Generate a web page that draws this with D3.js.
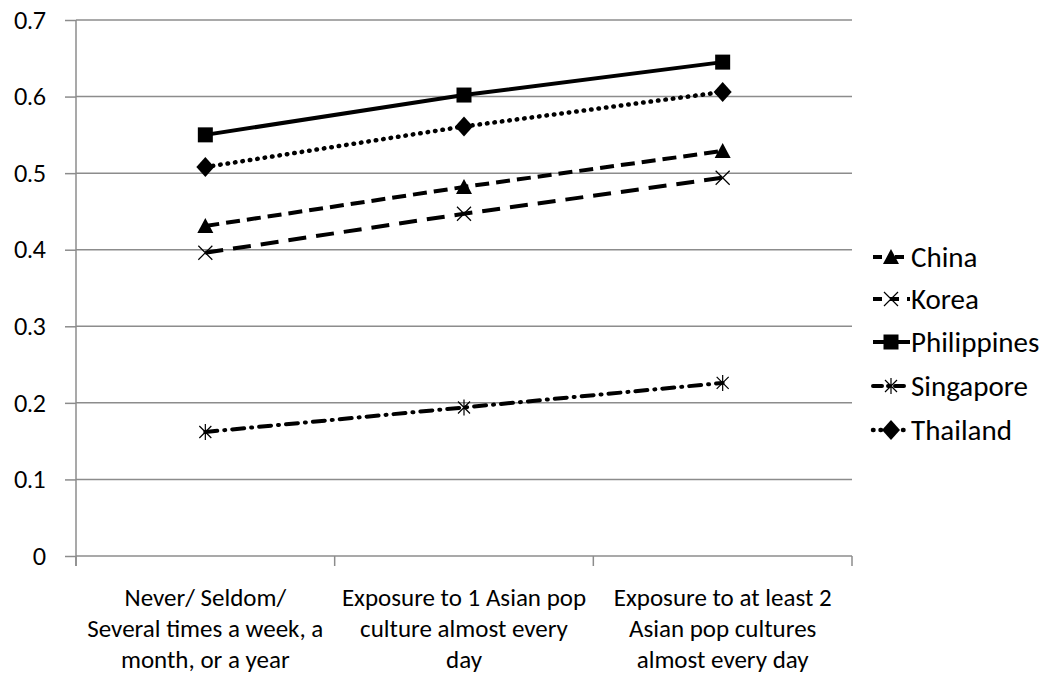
<!DOCTYPE html>
<html><head><meta charset="utf-8">
<script src="https://cdn.jsdelivr.net/npm/d3@7"></script>
<style>body{margin:0;background:#fff}svg{display:block}text{font-family:"Liberation Sans Narrow",Carlito,"Open Sans",sans-serif;fill:#000}</style>
</head><body><svg id="c" width="1051" height="678"></svg>
<script>
const categories = [
  ["Never/ Seldom/","Several times a week, a","month, or a year"],
  ["Exposure to 1 Asian pop","culture almost every","day"],
  ["Exposure to at least 2","Asian pop cultures","almost every day"]
];
const seriesNames = ["China","Korea","Philippines","Singapore","Thailand"];
const china = [0.431, 0.482, 0.529];
const korea = [0.396, 0.447, 0.494];
const philippines = [0.550, 0.602, 0.645];
const singapore = [0.162, 0.194, 0.226];
const thailand = [0.508, 0.561, 0.606];
const yTicks = [0,0.1,0.2,0.3,0.4,0.5,0.6,0.7];

const values = [china, korea, philippines, singapore, thailand];
const dashes = ["14,7","18,10",null,"12,7,1,7","0.5,7"];
const caps = ["butt","butt","butt","round","round"];
const markers = ["triangle","x","square","star","diamond"];

const svg = d3.select("#c");
const L=76, R=852, T=20, B=556;
const x = d3.scaleBand().domain(d3.range(categories.length)).range([L,R]);
const y = d3.scaleLinear().domain([0,0.7]).range([B,T]);

// grid
svg.append("g").selectAll("line").data(yTicks.filter(d=>d>0)).join("line")
  .attr("x1",L).attr("x2",R).attr("y1",d=>y(d)).attr("y2",d=>y(d))
  .attr("stroke","#8c8c8c").attr("stroke-width",1.5);

const ya = svg.append("g").attr("transform",`translate(${L},0)`)
  .call(d3.axisLeft(y).tickValues(yTicks).tickSize(11).tickPadding(19).tickFormat(d=>d===0?"0":d3.format(".1f")(d)));
ya.select(".domain").attr("stroke","#8c8c8c").attr("stroke-width",1.5).attr("d",`M0,${B+10}V${T}`);
ya.selectAll(".tick line").attr("stroke","#8c8c8c").attr("stroke-width",1.5);
ya.selectAll("text").style("font-family","Lato, sans-serif").style("font-size","23px").attr("fill","#000").attr("dy","0.36em");

const xa = svg.append("g").attr("transform",`translate(0,${B})`)
  .call(d3.axisBottom(x).tickValues([]).tickSize(0));
xa.select(".domain").attr("stroke","#8c8c8c").attr("stroke-width",1.5).attr("d",`M${L},0H${R}`);
const bounds = [0,1,2,3].map(i=>L+i*x.step());
xa.selectAll("line.b").data(bounds).join("line").attr("class","b")
  .attr("x1",d=>d).attr("x2",d=>d).attr("y1",0).attr("y2",10)
  .attr("stroke","#8c8c8c").attr("stroke-width",1.5);

const cx = i=>x(i)+x.bandwidth()/2;
categories.forEach((lines,i)=>{
  const t = svg.append("text").attr("text-anchor","middle").style("font-size","25px");
  lines.forEach((s,j)=>t.append("tspan").attr("x",cx(i)).attr("y",606+j*31).text(s));
});

function drawMarker(g,type,px,py){
  if(type==="triangle") g.append("path").attr("d",`M${px},${py-8}L${px+8},${py+7}L${px-8},${py+7}Z`).attr("fill","#000");
  else if(type==="square") g.append("rect").attr("x",px-7.5).attr("y",py-7.5).attr("width",15).attr("height",15).attr("fill","#000");
  else if(type==="diamond") g.append("path").attr("d",`M${px},${py-10}L${px+9},${py}L${px},${py+10}L${px-9},${py}Z`).attr("fill","#000");
  else if(type==="x") g.append("path").attr("d",`M${px-7},${py-7}L${px+7},${py+7}M${px-7},${py+7}L${px+7},${py-7}`).attr("stroke","#000").attr("stroke-width",1.2);
  else if(type==="star") g.append("path").attr("d",`M${px-6},${py-6}L${px+6},${py+6}M${px-6},${py+6}L${px+6},${py-6}M${px},${py-8}V${py+8}`).attr("stroke","#000").attr("stroke-width",1.2);
}

const line = d3.line().x((d,i)=>cx(i)).y(d=>y(d));
values.forEach((vals,k)=>{
  const g = svg.append("g");
  g.append("path").attr("d",line(vals)).attr("fill","none").attr("stroke","#000")
    .attr("stroke-width",k===4?4.5:4).attr("stroke-dasharray",dashes[k]).attr("stroke-linecap",caps[k]);
  vals.forEach((v,i)=>drawMarker(g,markers[k],cx(i),y(v)));
});

// legend
const legY = [257,299,342,386,430];
const legDash = ["9,6,1,6","9,8",null,"9,6,1,6","0.5,7"];
seriesNames.forEach((n,k)=>{
  const g = svg.append("g");
  const yy = legY[k];
  g.append("line").attr("x1",873).attr("x2",910).attr("y1",yy).attr("y2",yy).attr("stroke","#000")
    .attr("stroke-width",k===4?4.5:4).attr("stroke-dasharray",legDash[k])
    .attr("stroke-linecap",caps[k]);
  drawMarker(g,markers[k],891,yy);
  g.append("text").attr("x",911).attr("y",yy+10).style("font-size","29px").text(n);
});
</script></body></html>
